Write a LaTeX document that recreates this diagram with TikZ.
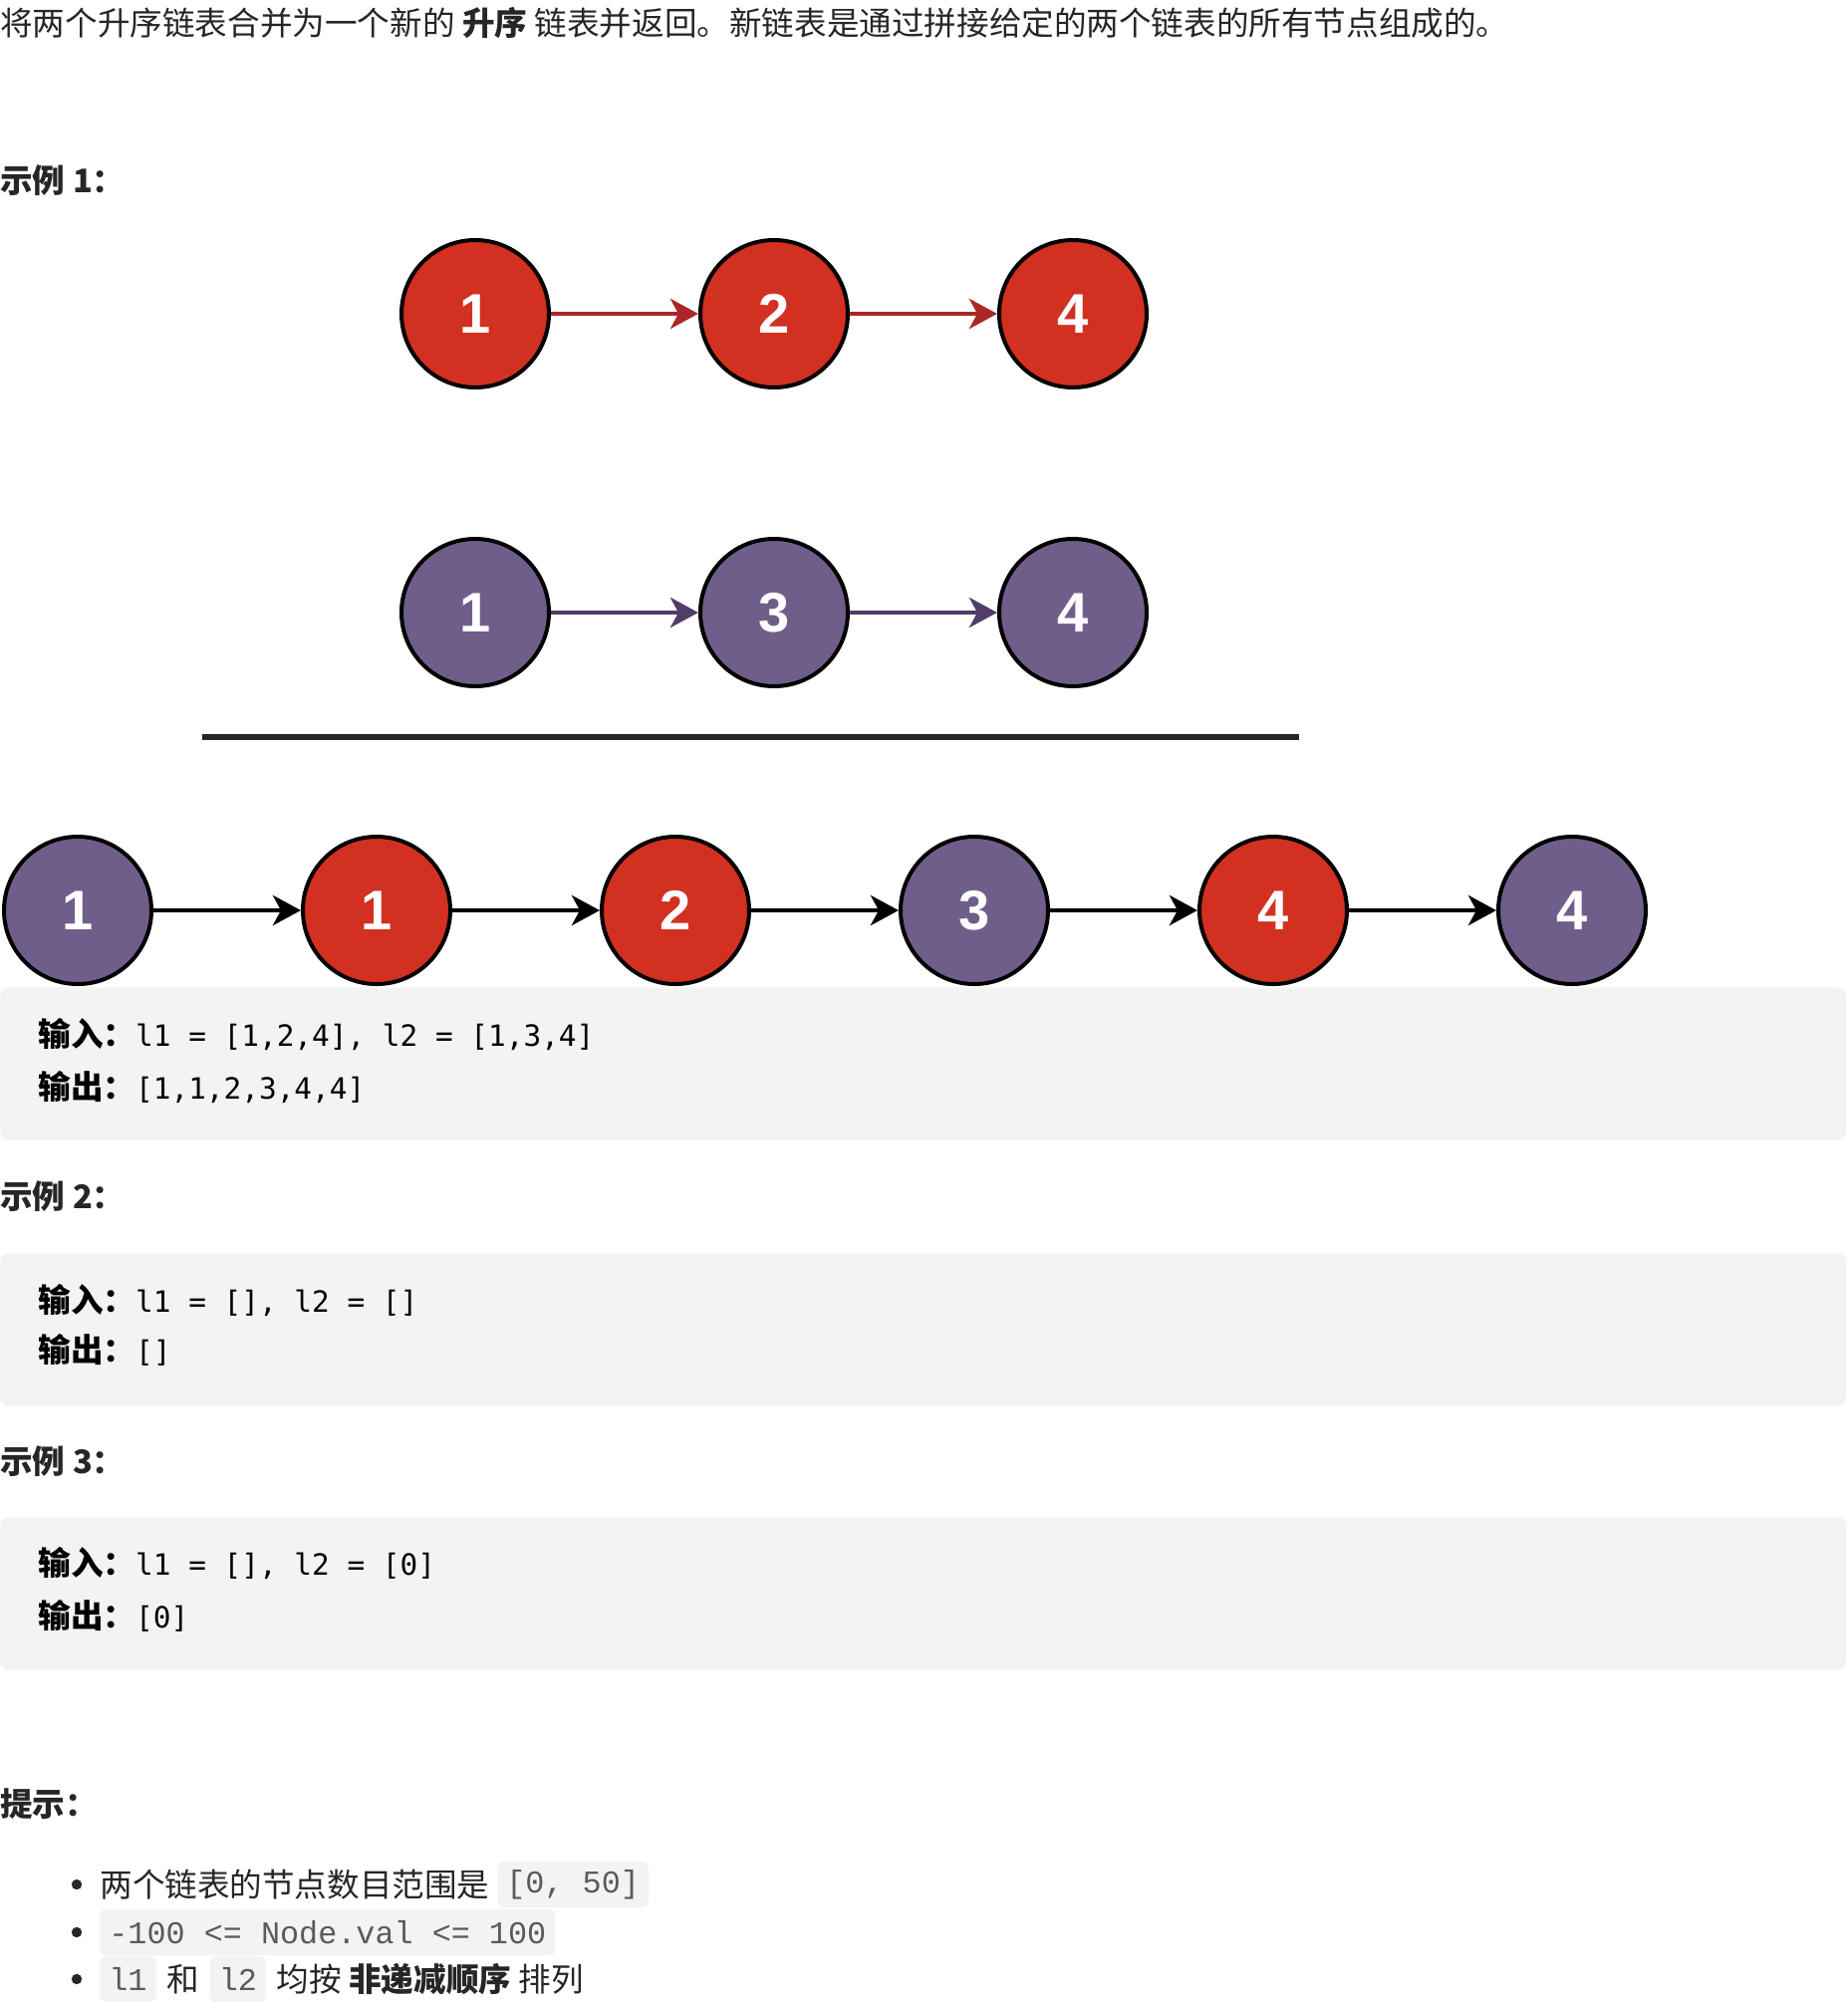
\documentclass[tikz,border=0pt]{standalone}
\usepackage{fontspec}
\setmainfont{Liberation Sans}
\setmonofont{DejaVu Sans Mono}
\newfontfamily\cjk{Noto Sans CJK SC}
\newfontfamily\inlinemono{Liberation Mono}
\usepackage{xcolor}
\usepackage{tikz}
\usetikzlibrary{arrows.meta, positioning}

\definecolor{listred}{RGB}{210,48,32}
\definecolor{listpurple}{RGB}{112,94,138}
\definecolor{arrowred}{RGB}{172,38,40}
\definecolor{arrowpurple}{RGB}{80,62,104}
\definecolor{codebg}{RGB}{242,243,245}
\definecolor{textdark}{RGB}{38,38,38}
\definecolor{codegray}{RGB}{90,90,90}

\newcommand{\cnfont}{\cjk\fontsize{16.3}{20}\selectfont}
\newcommand{\codefont}{\ttfamily\fontsize{14.7}{18}\selectfont}

\begin{document}
\begin{tikzpicture}[
    x=0.5pt, y=-0.5pt,
    node distance=150pt,
    every node/.style={inner sep=0pt},
    ball/.style={circle, on grid, draw=black, line width=2pt, minimum size=74pt, text=white, font=\bfseries\fontsize{28}{28}\selectfont},
    redball/.style={ball, fill=listred},
    purpleball/.style={ball, fill=listpurple},
    arrow/.style={->, >={Stealth[length=14pt, width=15pt, inset=4pt]}, line width=2.4pt, black},
    redarrow/.style={arrow, arrowred},
    purplearrow/.style={arrow, arrowpurple},
    heading/.style={anchor=west, text=textdark, font=\cnfont\bfseries},
    plain/.style={anchor=west, text=textdark, font=\cnfont},
    codebox/.style={anchor=north west, fill=codebg, rounded corners=4pt, minimum width=926.5pt, minimum height=76.5pt},
    codeline/.style={anchor=west, text=black},
    inlinecode/.style={fill=codebg, rounded corners=3pt, inner xsep=4.5pt, minimum height=23pt, text=codegray, font=\inlinemono\fontsize{15.9}{18}\selectfont},
    bulletdot/.style={circle, fill=textdark, minimum size=5.2pt}
]
\useasboundingbox (0,0) rectangle (1855,2010);

% =====================
% Title and first example
% =====================
\node[plain] (title) at (0,23) {将两个升序链表合并为一个新的 {\bfseries 升序} 链表并返回。新链表是通过拼接给定的两个链表的所有节点组成的。};
\node[heading] (ex1) at (0,181) {示例 1：};

% =====================
% l1 and l2
% =====================
\node[redball] (l1a) at (477,315) {1};
\node[redball, right=of l1a] (l1b) {2};
\node[redball, right=of l1b] (l1c) {4};

\node[purpleball] (l2a) at (477,615) {1};
\node[purpleball, right=of l2a] (l2b) {3};
\node[purpleball, right=of l2b] (l2c) {4};

\draw[redarrow] (l1a) -- (l1b);
\draw[redarrow] (l1b) -- (l1c);
\draw[purplearrow] (l2a) -- (l2b);
\draw[purplearrow] (l2b) -- (l2c);

\draw[line width=2.6pt, textdark] (203,740) -- (1304,740);

% =====================
% Merged list
% =====================
\node[purpleball] (m1) at (78,914) {1};
\node[redball, right=of m1] (m2) {1};
\node[redball, right=of m2] (m3) {2};
\node[purpleball, right=of m3] (m4) {3};
\node[redball, right=of m4] (m5) {4};
\node[purpleball, right=of m5] (m6) {4};

\foreach \a/\b in {m1/m2, m2/m3, m3/m4, m4/m5, m5/m6}
    \draw[arrow] (\a) -- (\b);

% =====================
% Examples
% =====================
\node[codebox] (box1) at (0,991) {};
\node[codeline] (in1) at (38,1038) {{\cnfont\bfseries 输入：}{\codefont l1 = [1,2,4], l2 = [1,3,4]}};
\node[codeline] (out1) at (38,1091) {{\cnfont\bfseries 输出：}{\codefont [1,1,2,3,4,4]}};

\node[heading] (ex2) at (0,1201) {示例 2：};
\node[codebox] (box2) at (0,1258) {};
\node[codeline] (in2) at (38,1305) {{\cnfont\bfseries 输入：}{\codefont l1 = [], l2 = []}};
\node[codeline] (out2) at (38,1355) {{\cnfont\bfseries 输出：}{\codefont []}};

\node[heading] (ex3) at (0,1467) {示例 3：};
\node[codebox] (box3) at (0,1523) {};
\node[codeline] (in3) at (38,1569) {{\cnfont\bfseries 输入：}{\codefont l1 = [], l2 = [0]}};
\node[codeline] (out3) at (38,1622) {{\cnfont\bfseries 输出：}{\codefont [0]}};

% =====================
% Hints
% =====================
\node[heading] (hint) at (0,1811) {提示：};

\node[bulletdot] (dot1) at (77,1892) {};
\node[plain] (h1text) at (100,1892) {两个链表的节点数目范围是};
\node[inlinecode, right=3.5pt of h1text] (h1code) {[0, 50]};

\node[bulletdot] (dot2) at (77,1940) {};
\node[inlinecode, anchor=west] (h2code) at (100,1940) {-100 <= Node.val <= 100};

\node[bulletdot] (dot3) at (77,1987) {};
\node[inlinecode, anchor=west] (h3codea) at (100,1987) {l1};
\node[plain, right=5pt of h3codea] (h3and) {和};
\node[inlinecode, right=5pt of h3and] (h3codeb) {l2};
\node[plain, right=5pt of h3codeb] (h3text) {均按 {\bfseries 非递减顺序} 排列};

\end{tikzpicture}
\end{document}
